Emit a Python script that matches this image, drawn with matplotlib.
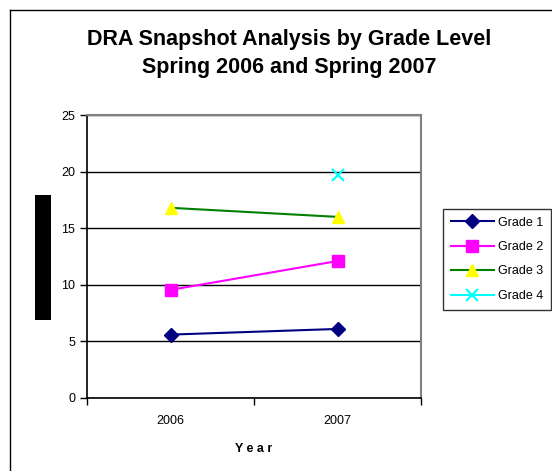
import matplotlib
matplotlib.use('Agg')
import matplotlib.pyplot as plt
from matplotlib.patches import Rectangle
import numpy as np

plt.rcParams['font.family'] = ['Liberation Sans', 'DejaVu Sans']

years = ['2006', '2007']
grade1 = [5.6, 6.1]
grade2 = [9.55, 12.1]
grade3 = [16.8, 16.0]
grade4 = [np.nan, 19.7]
labels = ['Grade 1', 'Grade 2', 'Grade 3', 'Grade 4']

W, H = 552, 471
fig = plt.figure(figsize=(W / 100, H / 100), dpi=100)

# outer chart frame (only left/top visible in the reference)
fig.add_artist(plt.Line2D([10 / W, 10 / W], [0, 1 - 10 / H], color='black', lw=1))
fig.add_artist(plt.Line2D([10 / W, 1], [1 - 10 / H, 1 - 10 / H], color='black', lw=1))

ax = fig.add_axes([87 / W, 1 - 398 / H, (421 - 87) / W, (398 - 115) / H])
x = np.arange(len(years))

ax.plot(x, grade1, color='#000080', marker='D', ms=7, lw=1.5, label=labels[0])
ax.plot(x, grade2, color='#FF00FF', marker='s', ms=8, lw=1.5, label=labels[1])
ax.plot(x, grade3, color='#008000', marker='^', ms=9, lw=1.5, mfc='#FFFF00', mec='#FFFF00', label=labels[2])
ax.plot(x, grade4, color='#00FFFF', marker='x', ms=8, mew=1.5, lw=1.5, label=labels[3])

ax.set_xlim(-0.5, 1.5)
ax.set_ylim(0, 25)
ax.set_yticks(range(0, 26, 5))
ax.set_xticks(x)
ax.set_xticklabels(years)
ax.set_xticks([-0.5, 0.5, 1.5], minor=True)
ax.tick_params(axis='x', which='major', length=0, pad=12, labelsize=9)
ax.tick_params(axis='x', which='minor', length=5, direction='out', width=1)
ax.tick_params(axis='y', length=5, direction='out', labelsize=9, width=1)
ax.grid(axis='y', color='black', lw=1)
ax.set_axisbelow(True)
for s in ['top', 'right']:
    ax.spines[s].set_color('#808080')
    ax.spines[s].set_linewidth(1.5)
for s in ['left', 'bottom']:
    ax.spines[s].set_color('black')
    ax.spines[s].set_linewidth(1.2)

ax.set_xlabel('Y e a r', fontsize=9, fontweight='bold', labelpad=12)

fig.text(289 / W, 1 - 40 / H, 'DRA Snapshot Analysis by Grade Level', ha='center', va='center',
         fontsize=15.5, fontweight='bold')
fig.text(289 / W, 1 - 68 / H, 'Spring 2006 and Spring 2007', ha='center', va='center',
         fontsize=15.5, fontweight='bold')

# redacted y-axis label block
fig.add_artist(Rectangle((35 / W, 1 - 320 / H), 16 / W, 125 / H, transform=fig.transFigure,
                         facecolor='black', edgecolor='none'))

leg = fig.legend(loc='upper left', bbox_to_anchor=(443 / W, 1 - 209 / H), fontsize=9,
                 frameon=True, fancybox=False, edgecolor='black', borderpad=0.6,
                 labelspacing=1.0, handlelength=3.5, handletextpad=0.3, borderaxespad=0)
leg.get_frame().set_linewidth(1)

fig.savefig('out.png', dpi=100)
